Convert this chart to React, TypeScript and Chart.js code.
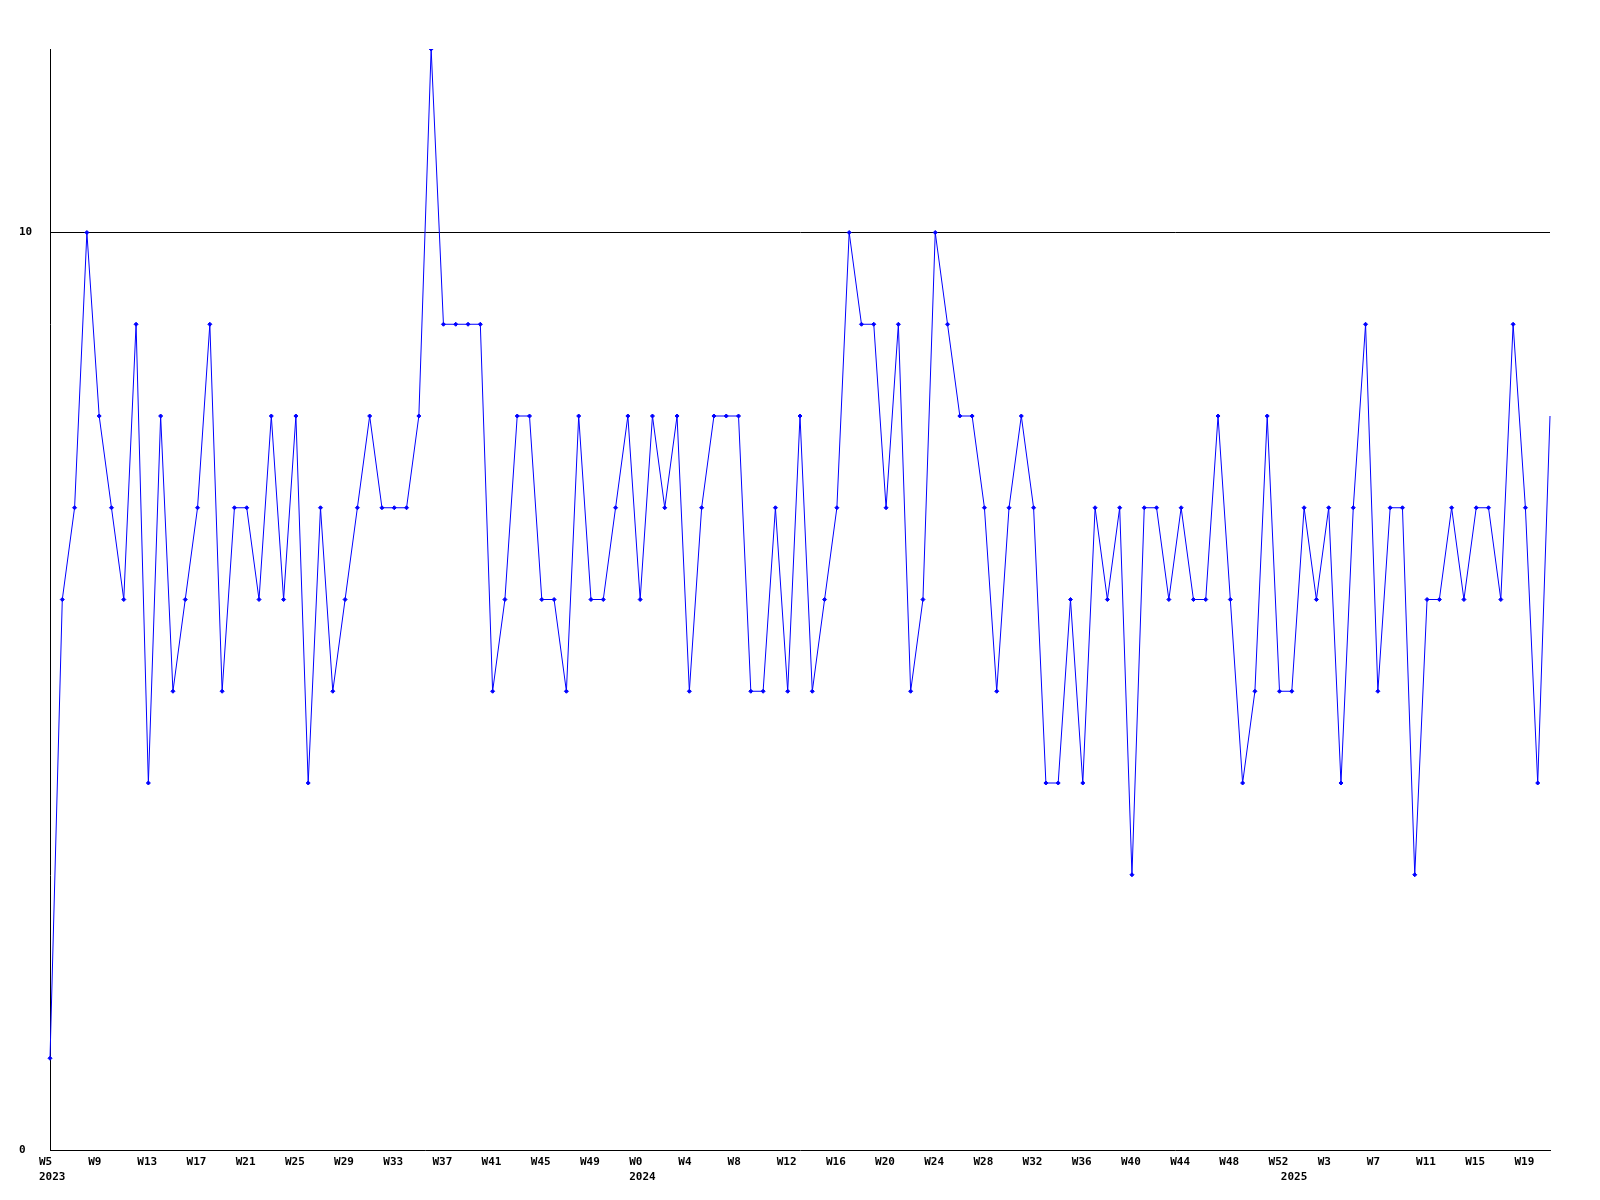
import React, { useEffect, useRef } from 'react';
import { Chart, registerables } from 'chart.js';

Chart.register(...registerables);

// Week numbers shown on the category axis, per year
const weeks2023 = [5, 6, 7, 8, 9, 10, 11, 12, 13, 14, 15, 16, 17, 18, 19, 20, 21, 22, 23, 24, 25, 26, 27, 28, 29, 30, 31, 32, 33, 34, 35, 36, 37, 38, 39, 40, 41, 42, 43, 44, 45, 46, 47, 48, 49, 50, 51, 52];
const weeks2024 = [0, 1, 2, 3, 4, 5, 6, 7, 8, 9, 10, 11, 12, 13, 14, 15, 16, 17, 18, 19, 20, 21, 22, 23, 24, 25, 26, 27, 28, 29, 30, 31, 32, 33, 34, 35, 36, 37, 38, 39, 40, 41, 42, 43, 44, 45, 46, 47, 48, 49, 50, 51, 52];
const weeks2025 = [0, 1, 2, 3, 4, 5, 6, 7, 8, 9, 10, 11, 12, 13, 14, 15, 16, 17, 18, 19, 20, 21];

// Weekly values
const values2023 = [1, 6, 7, 10, 8, 7, 6, 9, 4, 8, 5, 6, 7, 9, 5, 7, 7, 6, 8, 6, 8, 4, 7, 5, 6, 7, 8, 7, 7, 7, 8, 12, 9, 9, 9, 9, 5, 6, 8, 8, 6, 6, 5, 8, 6, 6, 7, 8];
const values2024 = [6, 8, 7, 8, 5, 7, 8, 8, 8, 5, 5, 7, 5, 8, 5, 6, 7, 10, 9, 9, 7, 9, 5, 6, 10, 9, 8, 8, 7, 5, 7, 8, 7, 4, 4, 6, 4, 7, 6, 7, 3, 7, 7, 6, 7, 6, 6, 8, 6, 4, 5, 8, 5];
const values2025 = [5, 7, 6, 7, 4, 7, 9, 5, 7, 7, 3, 6, 6, 7, 6, 7, 7, 6, 9, 7, 4, 8];

const years = ['2023', '2024', '2025'];
const yTickValues = [0, 10];
const labelEvery = 4;

const weeksByYear = [weeks2023, weeks2024, weeks2025];
const categories: string[] = [];
const yearStartIndex: Record<number, string> = {};
weeksByYear.forEach((ws, yi) => {
  yearStartIndex[categories.length] = years[yi];
  ws.forEach((w) => categories.push('W' + w));
});
const values = [...values2023, ...values2024, ...values2025];

const FONT = { family: "'DejaVu Sans Mono', monospace", size: 11, weight: 'bold' as const, lineHeight: 1.35 };

export default function App() {
  const ref = useRef<HTMLCanvasElement>(null);
  useEffect(() => {
    const chart = new Chart(ref.current!, {
      type: 'line',
      data: {
        labels: categories,
        datasets: [
          {
            data: values,
            borderColor: '#0000ff',
            backgroundColor: '#0000ff',
            borderWidth: 1,
            tension: 0,
            pointStyle: 'rectRot',
            pointRadius: (ctx: any) => (ctx.dataIndex === values.length - 1 ? 0 : 2),
            pointBorderWidth: 1,
            pointBackgroundColor: '#0000ff',
            pointBorderColor: '#0000ff',
            fill: false,
          },
        ],
      },
      options: {
        responsive: false,
        animation: false,
        devicePixelRatio: 1,
        layout: { padding: { left: 19, top: 49, right: 50, bottom: 0 } },
        plugins: { legend: { display: false }, tooltip: { enabled: false }, title: { display: false } },
        scales: {
          x: {
            type: 'category',
            offset: false,
            grid: { display: false, drawTicks: false },
            border: { display: true, color: '#000000', width: 1 },
            afterFit: (scale: any) => {
              scale.height = 50;
            },
            ticks: {
              autoSkip: false,
              maxRotation: 0,
              minRotation: 0,
              align: 'start',
              labelOffset: -11,
              padding: 5,
              color: '#000000',
              font: FONT,
              callback: (_v: any, index: number) => {
                const week = index % labelEvery === 0 ? categories[index] : '';
                const year = yearStartIndex[index];
                if (year) return [week, year];
                return week;
              },
            },
          },
          y: {
            min: 0,
            max: 12,
            afterBuildTicks: (scale: any) => {
              scale.ticks = yTickValues.map((v) => ({ value: v }));
            },
            afterFit: (scale: any) => {
              scale.width = 31;
            },
            grid: {
              display: true,
              drawTicks: false,
              lineWidth: 1,
              color: (ctx: any) => (ctx.tick && ctx.tick.value === 10 ? '#000000' : 'rgba(0,0,0,0)'),
            },
            border: { display: true, color: '#000000', width: 1 },
            ticks: {
              crossAlign: 'far',
              padding: 0,
              color: '#000000',
              font: FONT,
              callback: (v: any) => String(v),
            },
          },
        },
      },
    });
    return () => chart.destroy();
  }, []);
  return (
    <div style={{ position: 'absolute', left: 0, top: 0, width: 1600, height: 1200, background: '#ffffff' }}>
      <canvas ref={ref} width={1600} height={1200} style={{ display: 'block', width: 1600, height: 1200 }} />
    </div>
  );
}
